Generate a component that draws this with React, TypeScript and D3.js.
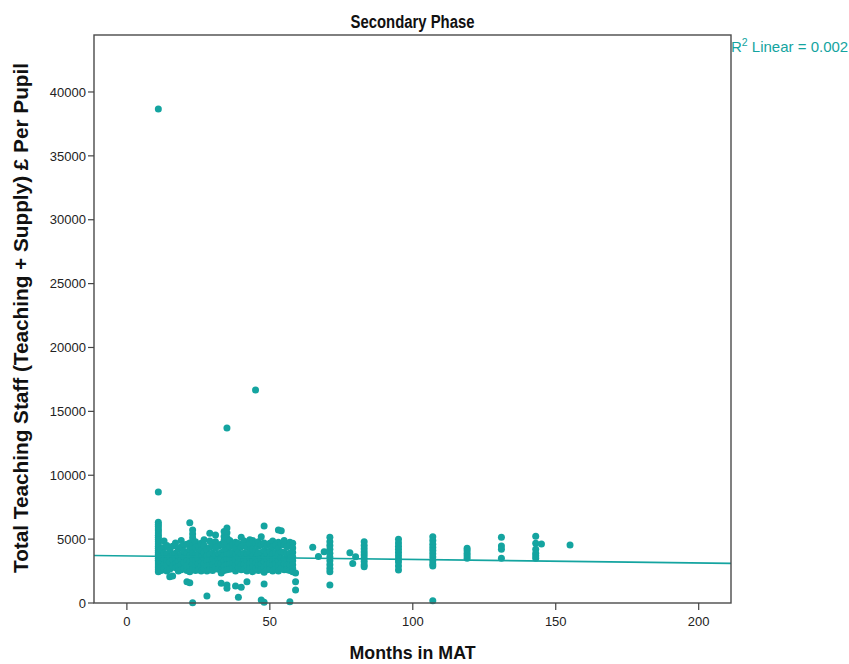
import React from "react";
import * as d3 from "d3";

// Months in MAT for the dense cluster, one entry per month column
const clusterMonths = [
  11, 12, 13, 14, 15, 16, 17, 18, 19, 20, 21, 22, 23, 24, 25, 26, 27, 28, 29, 30,
  31, 32, 33, 34, 35, 36, 37, 38, 39, 40, 41, 42, 43, 44, 45, 46, 47, 48, 49, 50,
  51, 52, 53, 54, 55, 56, 57, 58, 59,
];
// £ per pupil values for each month column above
const clusterValues: number[][] = [
  [6320, 6150, 5980, 5800, 5650, 5480, 5300, 5150, 4980, 4800, 4620, 4450, 4280, 4100, 3950, 3800, 3650, 3500, 3350, 3200, 3050, 2900, 2750, 2600, 2450],
  [4200, 3600, 3100, 2800, 2550],
  [4850, 4350, 3900, 3400, 3000, 2700],
  [4500, 3800, 3300, 2950, 2500],
  [4100, 3550, 3200, 2650, 2060],
  [4450, 3700, 3350, 2900, 2110],
  [4700, 3900, 3450, 3050, 2750],
  [4250, 3650, 3250, 2850, 2500],
  [4900, 4400, 3800, 3400, 3000, 2600],
  [4550, 4050, 3550, 3150, 2700],
  [4600, 3900, 3300, 2950, 2550, 1670],
  [6290, 4700, 4200, 3700, 3250, 2800, 2450, 1590],
  [5710, 5400, 5100, 4800, 4500, 4200, 3900, 3620, 3300, 3000, 2650, 20],
  [4800, 4300, 3750, 3350, 2950, 2550],
  [4450, 3850, 3400, 3050, 2600],
  [4670, 4100, 3600, 3200, 2850, 2500],
  [4950, 4500, 3950, 3500, 3100, 2700],
  [4200, 3700, 3300, 2900, 2500, 550],
  [5450, 4850, 4350, 3800, 3350, 2950, 2600],
  [4550, 3900, 3450, 3000, 2550],
  [5320, 4800, 4300, 3750, 3250, 2800],
  [4450, 3850, 3400, 3050, 2650],
  [4600, 3950, 3500, 3100, 2580, 2350, 1540],
  [5600, 5200, 4900, 4500, 4100, 3700, 3300, 2900, 2550],
  [5870, 5500, 5100, 4700, 4150, 3800, 3400, 3000, 2600, 1410, 1150, 13700],
  [4900, 4400, 3850, 3450, 3050, 2650],
  [4550, 3950, 3500, 3100, 2700],
  [4750, 4300, 3800, 3350, 2950, 2500, 1330],
  [4650, 4000, 3550, 3150, 2750, 445],
  [5140, 4400, 3850, 3400, 3000, 2600, 1230],
  [4850, 4500, 3900, 3450, 3050, 2650],
  [4350, 3800, 3350, 2900, 2500, 1670],
  [4950, 4600, 4000, 3500, 3100, 2700],
  [4900, 4250, 3700, 3250, 2850, 2450],
  [4670, 4050, 3550, 3150, 2700, 16670],
  [4800, 4450, 3900, 3400, 3000, 2550],
  [5190, 4550, 3950, 3450, 3050, 2600, 235],
  [6030, 4700, 4100, 3600, 3200, 2750, 2400, 1490, 50],
  [4500, 3900, 3400, 3000, 2600],
  [4670, 4050, 3550, 3100, 2650],
  [4850, 4400, 3850, 3350, 2950, 2500],
  [4550, 3950, 3450, 3050, 2650],
  [5710, 4750, 4300, 3800, 3300, 2900, 2500],
  [5660, 4600, 4000, 3500, 3100, 2700],
  [4900, 4540, 3950, 3450, 3050, 2600],
  [4400, 3850, 3400, 2950, 2600],
  [4750, 4500, 3900, 3450, 3000, 2550, 100],
  [4670, 4300, 3950, 3600, 3300, 3000, 2700, 2450],
  [2350, 1670, 1020],
];

// Sparser later month columns
const laterMonths = [65, 67, 69, 71, 78, 79, 80, 83, 95, 107, 119, 131, 143, 145, 155];
const laterValues: number[][] = [
  [4360],
  [3630],
  [4020],
  [5140, 4800, 4500, 4200, 3900, 3600, 3300, 3000, 2700, 2450, 1410],
  [3940],
  [3100],
  [3620],
  [4800, 4500, 4250, 4000, 3750, 3500, 3250, 3000, 2840],
  [4990, 4700, 4450, 4200, 3950, 3700, 3450, 3200, 2900, 2580],
  [5190, 4900, 4600, 4350, 4100, 3850, 3600, 3300, 3050, 2900, 180],
  [4280, 4100, 3900, 3700, 3500],
  [5140, 4460, 4200, 3500],
  [5220, 4670, 4200, 3890, 3700, 3500],
  [4620],
  [4540],
];

// Extreme outliers at 11 months
const outlierMonths = [11, 11];
const outlierValues = [38670, 8690];

// Linear fit
const regIntercept = 3690;
const regSlope = -2.77;
const r2Label = "0.002";

const xTicks = [0, 50, 100, 150, 200];
const yTicks = [0, 5000, 10000, 15000, 20000, 25000, 30000, 35000, 40000];

const TEAL = "#14a4a0";
const FONT = "'Liberation Sans', Arial, sans-serif";

export default function App() {
  const W = 849;
  const H = 664;
  const left = 94;
  const right = 731;
  const top = 35;
  const bottom = 603;

  const x = d3.scaleLinear().domain([-11.5, 211.3]).range([left, right]);
  const y = d3.scaleLinear().domain([0, 44460]).range([bottom, top]);

  const points: [number, number][] = [];
  clusterMonths.forEach((m, i) => clusterValues[i].forEach((v) => points.push([m, v])));
  laterMonths.forEach((m, i) => laterValues[i].forEach((v) => points.push([m, v])));
  outlierMonths.forEach((m, i) => points.push([m, outlierValues[i]]));

  const [x0, x1] = x.domain();
  const line = d3
    .line<number>()
    .x((d) => x(d))
    .y((d) => y(regIntercept + regSlope * d));

  return (
    <svg
      width={W}
      height={H}
      style={{ position: "absolute", left: 0, top: 0, background: "#fff" }}
      fontFamily={FONT}
    >
      <rect x={0} y={0} width={W} height={H} fill="#fff" />
      <text
        x={(left + right) / 2}
        y={28}
        textAnchor="middle"
        fontSize={18}
        fontWeight="bold"
        fill="#111"
        textLength={124}
        lengthAdjust="spacingAndGlyphs"
      >
        Secondary Phase
      </text>

      {/* points */}
      <g fill={TEAL}>
        {points.map((p, i) => (
          <circle key={i} cx={x(p[0])} cy={y(p[1])} r={3.5} />
        ))}
      </g>

      {/* regression line */}
      <path d={line([x0, x1]) || ""} stroke={TEAL} strokeWidth={1.6} fill="none" />

      {/* frame */}
      <rect x={left} y={top} width={right - left} height={bottom - top} fill="none" stroke="#4a4a4a" strokeWidth={1.4} />

      {/* y axis ticks */}
      {yTicks.map((t) => (
        <g key={t}>
          <line x1={left - 6} x2={left} y1={y(t)} y2={y(t)} stroke="#444" strokeWidth={1.2} />
          <text x={left - 8} y={y(t)} dy="0.36em" textAnchor="end" fontSize={13} fill="#222">
            {t}
          </text>
        </g>
      ))}

      {/* x axis ticks */}
      {xTicks.map((t) => (
        <g key={t}>
          <line x1={x(t)} x2={x(t)} y1={bottom} y2={bottom + 7} stroke="#444" strokeWidth={1.2} />
          <text x={x(t)} y={626} textAnchor="middle" fontSize={13} fill="#222">
            {t}
          </text>
        </g>
      ))}

      <text
        x={(left + right) / 2}
        y={659}
        textAnchor="middle"
        fontSize={19}
        fontWeight="bold"
        fill="#111"
        textLength={126}
        lengthAdjust="spacingAndGlyphs"
      >
        Months in MAT
      </text>
      <text
        transform={`translate(28, ${(63 + 573) / 2}) rotate(-90)`}
        textAnchor="middle"
        fontSize={20}
        fontWeight="bold"
        fill="#111"
        textLength={510}
        lengthAdjust="spacingAndGlyphs"
      >
        Total Teaching Staff (Teaching + Supply) £ Per Pupil
      </text>

      <text x={731} y={52} fontSize={15} fill={TEAL}>
        R<tspan dy={-6} fontSize={10.5}>2</tspan>
        <tspan dy={6}> Linear = {r2Label}</tspan>
      </text>
    </svg>
  );
}
